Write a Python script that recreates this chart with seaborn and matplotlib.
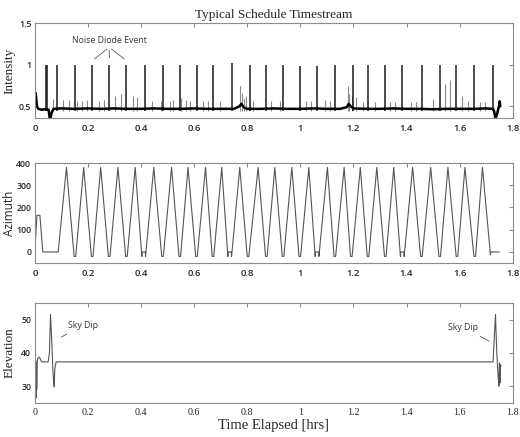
import matplotlib
matplotlib.use('Agg')
import matplotlib.pyplot as plt
import seaborn as sns
from matplotlib.ticker import FuncFormatter

# Intensity: baseline knots (hrs, value)
base_t = [0.000, 0.003, 0.008, 0.013, 0.025, 0.040, 0.052, 0.057, 0.063, 0.070,
          0.100, 0.150, 0.200, 0.250, 0.300, 0.350, 0.400, 0.450, 0.500, 0.550,
          0.600, 0.650, 0.700, 0.750, 0.770, 0.778, 0.786, 0.800, 0.850, 0.900,
          0.950, 1.000, 1.050, 1.100, 1.150, 1.175, 1.182, 1.190, 1.200, 1.250,
          1.300, 1.350, 1.400, 1.450, 1.500, 1.550, 1.600, 1.650, 1.700, 1.726,
          1.730, 1.735, 1.742, 1.748, 1.751, 1.753]
base_v = [0.52, 0.66, 0.50, 0.47, 0.46, 0.465, 0.46, 0.33, 0.42, 0.47,
          0.475, 0.47, 0.475, 0.47, 0.475, 0.47, 0.47, 0.475, 0.47, 0.47,
          0.475, 0.47, 0.47, 0.47, 0.50, 0.53, 0.49, 0.47, 0.47, 0.475,
          0.47, 0.47, 0.475, 0.47, 0.47, 0.49, 0.53, 0.50, 0.475, 0.47,
          0.47, 0.475, 0.47, 0.47, 0.465, 0.47, 0.47, 0.47, 0.475, 0.47,
          0.44, 0.35, 0.42, 0.50, 0.56, 0.50]

# noise diode events (tall spikes)
diode_t = [0.041, 0.046, 0.084, 0.153, 0.217, 0.281, 0.345, 0.414, 0.482, 0.546,
           0.609, 0.671, 0.742, 0.809, 0.872, 0.935, 0.998, 1.064, 1.132, 1.198,
           1.255, 1.318, 1.384, 1.457, 1.525, 1.588, 1.653, 1.726]
diode_v = [1.00, 1.00, 1.00, 1.00, 1.00, 1.00, 1.00, 1.00, 1.00, 1.00,
           1.00, 1.00, 1.02, 1.00, 1.00, 1.00, 0.98, 0.99, 1.00, 1.00,
           1.00, 1.00, 1.00, 1.00, 1.00, 1.00, 1.00, 1.00]

# small spikes
blip_t = [0.069, 0.107, 0.128, 0.157, 0.176, 0.197, 0.241, 0.260, 0.301, 0.323,
          0.368, 0.383, 0.443, 0.477, 0.508, 0.521, 0.550, 0.571, 0.586, 0.634,
          0.653, 0.697, 0.774, 0.780, 0.786, 0.797, 0.822, 0.891, 0.922, 1.023,
          1.042, 1.092, 1.111, 1.180, 1.185, 1.195, 1.211, 1.236, 1.280, 1.339,
          1.355, 1.418, 1.437, 1.500, 1.544, 1.565, 1.610, 1.631, 1.675, 1.694]
blip_v = [0.59, 0.58, 0.58, 0.56, 0.57, 0.58, 0.57, 0.58, 0.63, 0.65,
          0.63, 0.61, 0.57, 0.57, 0.57, 0.58, 0.60, 0.58, 0.56, 0.57,
          0.56, 0.57, 0.74, 0.66, 0.60, 0.62, 0.57, 0.57, 0.56, 0.56,
          0.57, 0.58, 0.56, 0.74, 0.65, 0.62, 0.61, 0.55, 0.55, 0.55,
          0.55, 0.55, 0.55, 0.59, 0.77, 0.82, 0.63, 0.56, 0.55, 0.55]

# Azimuth vertices
az_t = [0.000, 0.008, 0.019, 0.030, 0.088,
        0.119, 0.148, 0.154, 0.184, 0.213, 0.219, 0.248, 0.277, 0.283,
        0.313, 0.342, 0.348, 0.378, 0.403, 0.404, 0.416, 0.417,
        0.448, 0.478, 0.484, 0.515, 0.543, 0.549, 0.577, 0.606, 0.612,
        0.643, 0.668, 0.674, 0.704, 0.727, 0.728, 0.740, 0.741,
        0.772, 0.800, 0.806, 0.841, 0.869, 0.875, 0.904, 0.932, 0.938,
        0.968, 0.995, 1.001, 1.032, 1.056, 1.057, 1.069, 1.070,
        1.102, 1.127, 1.133, 1.165, 1.189, 1.195, 1.226, 1.252, 1.258,
        1.288, 1.317, 1.323, 1.352, 1.377, 1.378, 1.390, 1.391,
        1.423, 1.453, 1.459, 1.491, 1.522, 1.528, 1.556, 1.587, 1.593,
        1.620, 1.654, 1.660, 1.686, 1.716, 1.718, 1.750]
az_v = [0, 165, 165, 0, 0,
        380, -20, -20, 380, -20, -20, 380, -20, -20,
        380, -20, -20, 380, -20, 0, 0, -20,
        380, -20, -20, 380, -20, -20, 380, -20, -20,
        380, -20, -20, 380, -20, 0, 0, -20,
        380, -20, -20, 380, -20, -20, 380, -20, -20,
        380, -20, -20, 380, -20, 0, 0, -20,
        380, -20, -20, 380, -20, -20, 380, -20, -20,
        380, -20, -20, 380, -20, 0, 0, -20,
        380, -20, -20, 380, -20, -20, 380, -20, -20,
        380, -20, -20, 380, -12, 0, 0]

# Elevation vertices
el_t = [0.000, 0.002, 0.004, 0.005, 0.006, 0.007, 0.009, 0.012, 0.016, 0.020,
        0.025, 0.050, 0.055, 0.059, 0.063, 0.068, 0.071, 0.073, 0.075, 0.080,
        1.726, 1.731, 1.735, 1.740, 1.745, 1.748, 1.750, 1.752, 1.754, 1.756]
el_v = [37.0, 27.0, 37.5, 26.5, 37.0, 29.0, 37.5, 38.5, 38.7, 38.3,
        37.3, 37.3, 40.0, 51.5, 45.0, 35.0, 31.0, 29.8, 35.0, 37.3,
        37.3, 45.0, 51.5, 40.0, 33.0, 30.0, 37.0, 31.0, 36.5, 36.0]

xticks = [0, 0.2, 0.4, 0.6, 0.8, 1.0, 1.2, 1.4, 1.6, 1.8]

sns.set_style('white')
plt.rcParams['font.family'] = ['Open Sans', 'DejaVu Sans']

fig, axes = plt.subplots(3, 1, figsize=(5.2, 4.37), dpi=100)
axes[0].set_position([0.067, 0.730, 0.919, 0.217])
axes[1].set_position([0.067, 0.398, 0.919, 0.229])
axes[2].set_position([0.067, 0.078, 0.919, 0.229])

serif = 'Liberation Serif'
gfmt = FuncFormatter(lambda v, p: f'{v:g}')

# --- Intensity
ax = axes[0]
ax.vlines(blip_t, 0.45, blip_v, color='#8a8a8a', lw=0.8)
ax.vlines(diode_t, 0.44, diode_v, color='#1a1a1a', lw=1.1)
sns.lineplot(x=base_t, y=base_v, ax=ax, color='black', lw=1.8,
             estimator=None, sort=False)
ax.set_ylim(0.36, 1.5)
ax.set_yticks([0.5, 1, 1.5])
ax.set_ylabel('Intensity', family=serif, fontsize=9.5)
ax.set_title('Typical Schedule Timestream', family=serif, fontsize=9.5, pad=4)
for tx in [0.217, 0.281, 0.345]:
    ax.annotate('', xy=(tx, 1.05), xytext=(0.28, 1.21),
                arrowprops=dict(arrowstyle='-', color='#555555', lw=0.6))
ax.text(0.28, 1.29, 'Noise Diode Event', ha='center', va='center',
        fontsize=6.3, color='#333333')

# --- Azimuth
ax = axes[1]
sns.lineplot(x=az_t, y=az_v, ax=ax, color='#555555', lw=0.8,
             estimator=None, sort=False)
ax.set_ylim(-50, 400)
ax.set_yticks([0, 100, 200, 300, 400])
ax.set_ylabel('Azimuth', fontsize=8.5)

# --- Elevation
ax = axes[2]
sns.lineplot(x=el_t, y=el_v, ax=ax, color='#555555', lw=0.8,
             estimator=None, sort=False)
ax.set_ylim(25, 55)
ax.set_yticks([30, 40, 50])
ax.set_ylabel('Elevation', family=serif, fontsize=9.5)
ax.set_xlabel('Time Elapsed [hrs]', family=serif, fontsize=10.5, labelpad=1)
ax.annotate('Sky Dip', xy=(0.090, 44.3), xytext=(0.125, 47.0),
            fontsize=6.3, color='#333333', ha='left', va='bottom',
            arrowprops=dict(arrowstyle='-', color='#555555', lw=0.6))
ax.annotate('Sky Dip', xy=(1.721, 43.1), xytext=(1.670, 46.3),
            fontsize=6.3, color='#333333', ha='right', va='bottom',
            arrowprops=dict(arrowstyle='-', color='#555555', lw=0.6))

for i, ax in enumerate(axes):
    ax.set_xlim(0, 1.8)
    ax.set_xticks(xticks)
    ax.xaxis.set_major_formatter(gfmt)
    ax.yaxis.set_major_formatter(gfmt)
    for s in ax.spines.values():
        s.set_color('#8c8c8c')
        s.set_linewidth(0.8)
    ax.tick_params(axis='x', direction='in', top=True, length=3,
                   color='#8c8c8c', labelsize=6.8, pad=4)
    ax.tick_params(axis='y', direction='in', right=True, length=3,
                   color='#8c8c8c', labelsize=6.3, pad=2.5)
    for lab in ax.get_xticklabels() + ax.get_yticklabels():
        lab.set_fontweight('semibold')
    ax.yaxis.set_label_coords(-0.04, 0.5)
    if i == 2:
        for lab in ax.get_xticklabels():
            lab.set_family(serif)
            lab.set_fontweight('normal')
            lab.set_fontsize(7.2)

fig.savefig('out.png', dpi=100)
